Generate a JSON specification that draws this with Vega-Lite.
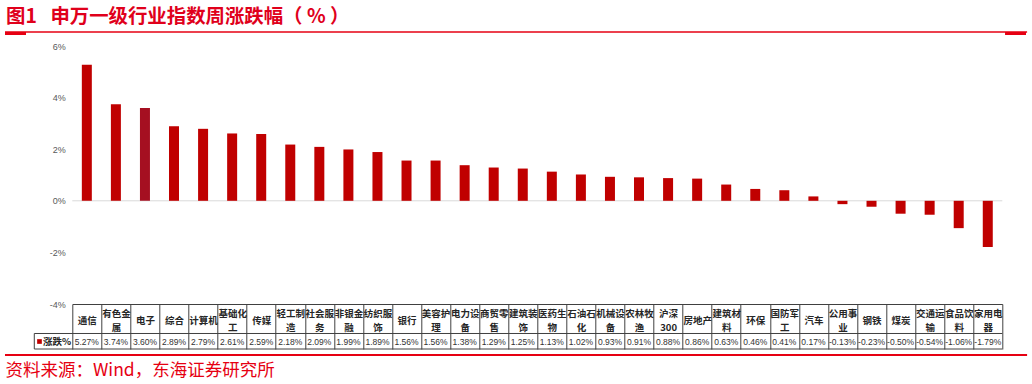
{
  "$schema": "https://vega.github.io/schema/vega-lite/v6.json",
  "width": 930,
  "height": 258,
  "autosize": {"type": "none"},
  "padding": {"left": 72.3, "top": 46, "right": 29.7, "bottom": 80},
  "background": "white",
  "config": {
    "view": {"stroke": null},
    "locale": {"number": {"decimal": ".", "thousands": ",", "grouping": [3], "currency": ["", ""], "minus": "-"}}
  },
  "data": {
    "values": [
      {"industry": "通信", "change": 0.0527},
      {"industry": "有色金属", "change": 0.0374},
      {"industry": "电子", "change": 0.0360},
      {"industry": "综合", "change": 0.0289},
      {"industry": "计算机", "change": 0.0279},
      {"industry": "基础化工", "change": 0.0261},
      {"industry": "传媒", "change": 0.0259},
      {"industry": "轻工制造", "change": 0.0218},
      {"industry": "社会服务", "change": 0.0209},
      {"industry": "非银金融", "change": 0.0199},
      {"industry": "纺织服饰", "change": 0.0189},
      {"industry": "银行", "change": 0.0156},
      {"industry": "美容护理", "change": 0.0156},
      {"industry": "电力设备", "change": 0.0138},
      {"industry": "商贸零售", "change": 0.0129},
      {"industry": "建筑装饰", "change": 0.0125},
      {"industry": "医药生物", "change": 0.0113},
      {"industry": "石油石化", "change": 0.0102},
      {"industry": "机械设备", "change": 0.0093},
      {"industry": "农林牧渔", "change": 0.0091},
      {"industry": "沪深300", "change": 0.0088},
      {"industry": "房地产", "change": 0.0086},
      {"industry": "建筑材料", "change": 0.0063},
      {"industry": "环保", "change": 0.0046},
      {"industry": "国防军工", "change": 0.0041},
      {"industry": "汽车", "change": 0.0017},
      {"industry": "公用事业", "change": -0.0013},
      {"industry": "钢铁", "change": -0.0023},
      {"industry": "煤炭", "change": -0.0050},
      {"industry": "交通运输", "change": -0.0054},
      {"industry": "食品饮料", "change": -0.0106},
      {"industry": "家用电器", "change": -0.0179}
    ]
  },
  "resolve": {"scale": {"x": "independent"}, "axis": {"x": "independent"}},
  "layer": [
    {
      "layer": [
        {
          "data": {"values": [{}]},
          "mark": {"type": "rule", "color": "#D9D9D9", "strokeWidth": 1},
          "encoding": {
            "y": {"datum": 0, "type": "quantitative", "scale": {"domain": [-0.04, 0.06], "nice": false, "zero": false}}
          }
        },
        {
          "mark": {"type": "bar", "size": 10},
          "encoding": {
            "x": {
              "field": "industry", "type": "nominal", "sort": null,
              "scale": {"paddingInner": 0, "paddingOuter": 0},
              "axis": {
                "title": null, "orient": "bottom", "labelAngle": 0,
                "domain": true, "domainColor": "#404040", "domainWidth": 1,
                "ticks": true, "tickBand": "extent", "tickSize": 45, "tickColor": "#404040", "tickWidth": 1,
                "labelPadding": {"condition": {"test": "length(datum.label) > 3", "value": -36}, "value": -29},
                "labelBaseline": "middle", "labelLineHeight": 14,
                "labelFont": "Noto Sans CJK SC", "labelFontSize": 9.5, "labelFontWeight": "bold", "labelColor": "#262626",
                "labelOverlap": false, "labelBound": false, "labelFlush": false, "labelLimit": 0,
                "labelExpr": "datum.label == '沪深300' ? ['沪深', '300'] : (length(datum.label) > 3 ? [substring(datum.label, 0, 3), substring(datum.label, 3)] : datum.label)"
              }
            },
            "y": {
              "field": "change", "type": "quantitative",
              "scale": {"domain": [-0.04, 0.06], "nice": false, "zero": false},
              "axis": {
                "title": null, "format": ".0%", "values": [-0.04, -0.02, 0, 0.02, 0.04, 0.06],
                "domain": false, "ticks": false, "grid": false,
                "labelFont": "Liberation Sans", "labelFontSize": 9, "labelColor": "#595959", "labelPadding": 7
              }
            },
            "color": {"condition": {"test": "datum.industry === '电子'", "value": "#A50F21"}, "value": "#C00000"}
          }
        },
        {
          "mark": {"type": "text", "font": "Liberation Sans", "fontSize": 8.5, "color": "#333333", "baseline": "middle", "align": "center"},
          "encoding": {
            "x": {"field": "industry", "type": "nominal", "sort": null, "scale": {"paddingInner": 0, "paddingOuter": 0}},
            "y": {"datum": -0.054535, "type": "quantitative", "scale": {"domain": [-0.04, 0.06], "nice": false, "zero": false}},
            "text": {"field": "change", "type": "quantitative", "format": ".2%"}
          }
        }
      ]
    },
    {
      "data": {"values": [{}]},
      "layer": [
        {
          "mark": {"type": "rule", "color": "#E60012", "strokeWidth": 1.3},
          "encoding": {
            "x": {"datum": -2.316, "type": "quantitative", "scale": {"domain": [0, 32], "nice": false, "zero": false}, "axis": null},
            "x2": {"datum": 32.853},
            "y": {"datum": 0.065426, "type": "quantitative", "scale": {"domain": [-0.04, 0.06], "nice": false, "zero": false}}
          }
        },
        {
          "mark": {"type": "rule", "color": "#E60012", "strokeWidth": 3},
          "encoding": {
            "x": {"datum": -2.316, "type": "quantitative", "scale": {"domain": [0, 32], "nice": false, "zero": false}, "axis": null},
            "x2": {"datum": -1.594},
            "y": {"datum": 0.064845, "type": "quantitative", "scale": {"domain": [-0.04, 0.06], "nice": false, "zero": false}}
          }
        },
        {
          "mark": {"type": "rule", "color": "#E60012", "strokeWidth": 3},
          "encoding": {
            "x": {"datum": 32.094, "type": "quantitative", "scale": {"domain": [0, 32], "nice": false, "zero": false}, "axis": null},
            "x2": {"datum": 32.816},
            "y": {"datum": 0.064845, "type": "quantitative", "scale": {"domain": [-0.04, 0.06], "nice": false, "zero": false}}
          }
        },
        {
          "mark": {"type": "rule", "color": "#E60012", "strokeWidth": 2},
          "encoding": {
            "x": {"datum": -2.316, "type": "quantitative", "scale": {"domain": [0, 32], "nice": false, "zero": false}, "axis": null},
            "x2": {"datum": 32.853},
            "y": {"datum": -0.059767, "type": "quantitative", "scale": {"domain": [-0.04, 0.06], "nice": false, "zero": false}}
          }
        },
        {
          "mark": {"type": "rule", "color": "#404040", "strokeWidth": 1},
          "encoding": {
            "x": {"datum": -1.308, "type": "quantitative", "scale": {"domain": [0, 32], "nice": false, "zero": false}, "axis": null},
            "x2": {"datum": 32},
            "y": {"datum": -0.051434, "type": "quantitative", "scale": {"domain": [-0.04, 0.06], "nice": false, "zero": false}}
          }
        },
        {
          "mark": {"type": "rule", "color": "#404040", "strokeWidth": 1},
          "encoding": {
            "x": {"datum": -1.308, "type": "quantitative", "scale": {"domain": [0, 32], "nice": false, "zero": false}, "axis": null},
            "x2": {"datum": 32},
            "y": {"datum": -0.057442, "type": "quantitative", "scale": {"domain": [-0.04, 0.06], "nice": false, "zero": false}}
          }
        },
        {
          "mark": {"type": "rule", "color": "#404040", "strokeWidth": 1},
          "encoding": {
            "x": {"datum": -1.308, "type": "quantitative", "scale": {"domain": [0, 32], "nice": false, "zero": false}, "axis": null},
            "y": {"datum": -0.051434, "type": "quantitative", "scale": {"domain": [-0.04, 0.06], "nice": false, "zero": false}},
            "y2": {"datum": -0.057442}
          }
        },
        {
          "mark": {"type": "point", "shape": "square", "filled": true, "color": "#C00000", "size": 22, "opacity": 1},
          "encoding": {
            "x": {"datum": -1.129, "type": "quantitative", "scale": {"domain": [0, 32], "nice": false, "zero": false}, "axis": null},
            "y": {"datum": -0.054535, "type": "quantitative", "scale": {"domain": [-0.04, 0.06], "nice": false, "zero": false}}
          }
        },
        {
          "mark": {"type": "text", "text": "涨跌%", "font": "Noto Sans CJK SC", "fontSize": 9.5, "fontWeight": "bold", "color": "#262626", "align": "left", "baseline": "middle"},
          "encoding": {
            "x": {"datum": -1.008, "type": "quantitative", "scale": {"domain": [0, 32], "nice": false, "zero": false}, "axis": null},
            "y": {"datum": -0.054535, "type": "quantitative", "scale": {"domain": [-0.04, 0.06], "nice": false, "zero": false}}
          }
        },
        {
          "mark": {"type": "text", "text": "图1\u2002\u2009申万一级行业指数周涨跌幅（ % ）", "font": "Noto Sans CJK SC", "fontSize": 19.4, "fontWeight": "bold", "color": "#E0001B", "align": "left", "baseline": "middle"},
          "encoding": {
            "x": {"datum": -2.2815, "type": "quantitative", "scale": {"domain": [0, 32], "nice": false, "zero": false}, "axis": null},
            "y": {"datum": 0.071434, "type": "quantitative", "scale": {"domain": [-0.04, 0.06], "nice": false, "zero": false}}
          }
        },
        {
          "mark": {"type": "text", "text": "资料来源：Wind，东海证券研究所", "font": "Noto Sans CJK SC", "fontSize": 17.5, "color": "#E60012", "align": "left", "baseline": "middle"},
          "encoding": {
            "x": {"datum": -2.299, "type": "quantitative", "scale": {"domain": [0, 32], "nice": false, "zero": false}, "axis": null},
            "y": {"datum": -0.06597, "type": "quantitative", "scale": {"domain": [-0.04, 0.06], "nice": false, "zero": false}}
          }
        }
      ]
    }
  ]
}
